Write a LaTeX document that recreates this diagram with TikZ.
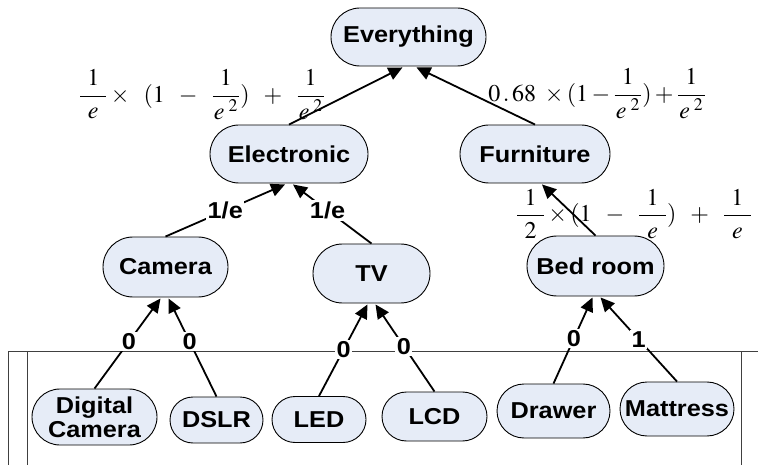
\documentclass[tikz,border=0pt]{standalone}
\usepackage{amsmath}
\usepackage{mathptmx}
\usepackage[no-math]{fontspec}
\newfontfamily\lblfont[FakeStretch=1.1]{Liberation Sans}
\usetikzlibrary{arrows.meta,calc,shapes.misc}
\definecolor{nodefill}{RGB}{230,236,247}
\newcommand\myfr[2]{\dfrac{\makebox[1.1em]{$#1$}}{\makebox[1.1em]{$#2$}}}
\tikzset{
  box/.style={rounded rectangle, draw=black, line width=0.9pt, fill=nodefill, inner sep=0pt,
    font=\lblfont\bfseries\fontsize{23}{26}\selectfont, align=center},
  link/.style={line width=1.8pt, -{Triangle[length=14pt,width=13pt]}},
  wlabel/.style={fill=white, inner sep=1.5pt, font=\lblfont\bfseries\fontsize{23}{26}\selectfont},
  formula/.style={inner sep=0pt, font=\fontsize{24}{26}\selectfont},
  frameline/.style={line width=0.8pt, draw=black!75}
}
\begin{document}
\begin{tikzpicture}[x=1pt,y=-1pt]
\useasboundingbox (0,0) rectangle (758,465);
% frame
\draw[frameline] (8,465) -- (8,351) -- (758,351);
\draw[frameline] (27,351) -- (27,465);
\draw[frameline] (741,351) -- (741,465);
% nodes
\node[box, minimum width=155pt, minimum height=58pt] (ev) at (408.5,37) {Everything};
\node[box, minimum width=158pt, minimum height=58pt] (elec) at (289,154) {Electronic};
\node[box, minimum width=150pt, minimum height=58pt] (furn) at (535,154) {Furniture};
\node[box, minimum width=125pt, minimum height=60pt] (cam) at (165.5,267) {Camera};
\node[box, minimum width=117pt, minimum height=59pt] (tv) at (371.5,273.5) {TV};
\node[box, minimum width=137pt, minimum height=60pt] (bed) at (595.5,266) {Bed room};
\node[box, minimum width=125pt, minimum height=56pt, font=\lblfont\bfseries\fontsize{23}{24}\selectfont] (dc) at (94.5,417) {Digital\\Camera};
\node[box, minimum width=93pt, minimum height=46pt] (dslr) at (216.5,420) {DSLR};
\node[box, minimum width=94pt, minimum height=46pt] (led) at (319,419.5) {LED};
\node[box, minimum width=105pt, minimum height=49pt] (lcd) at (434.5,416.5) {LCD};
\node[box, minimum width=113pt, minimum height=54pt] (drw) at (553.5,411) {Drawer};
\node[box, minimum width=114pt, minimum height=54pt] (mat) at (677,409) {Mattress};
% edges
\draw[link] (elec.north) -- ($(ev.south)+(-6,1)$);
\draw[link] (furn.north) -- ($(ev.south)+(8,1)$);
\draw[link] (cam.north) -- node[wlabel,pos=0.5] (l1) {1/e} ($(elec.south)+(-4,1)$);
\draw[link] (tv.north) -- node[wlabel,pos=0.56] (l2) {1/e} ($(elec.south)+(4,1)$);
\draw[link] (bed.north) -- ($(furn.south)+(7,1)$);
\draw[link] (dc.north) -- node[wlabel,pos=0.52] (l3) {0} ($(cam.south)+(-5,1)$);
\draw[link] (dslr.north) -- node[wlabel,pos=0.56] (l4) {0} ($(cam.south)+(3,1)$);
\draw[link] (led.north) -- node[wlabel,pos=0.51] (l5) {0} ($(tv.south)+(-4,1)$);
\draw[link] (lcd.north) -- node[wlabel,pos=0.52] (l6) {0} ($(tv.south)+(4,1)$);
\draw[link] (drw.north) -- node[wlabel,pos=0.52] (l7) {0} ($(bed.south)+(-3,1)$);
\draw[link] (mat.north) -- node[wlabel,pos=0.5] (l8) {1} ($(bed.south)+(5,1)$);
% formulas
\node[formula] (f1) at (202,95) {$\myfr{1}{e}\times\;\;(1\;\;-\;\;\myfr{1}{e^{\,\,2}})\;\;+\;\;\myfr{1}{e^{\,\,2}}$};
\node[formula] (f2) at (597,94) {$0\,.\,68\;\times(1-\myfr{1}{e^{\,\,2}})+\myfr{1}{e^{\,\,2}}$};
\node[formula] (f3) at (634,214) {$\myfr{1}{2}\times(1\;\;-\;\;\myfr{1}{e})\;\;+\;\;\myfr{1}{e}$};
\end{tikzpicture}
\end{document}
